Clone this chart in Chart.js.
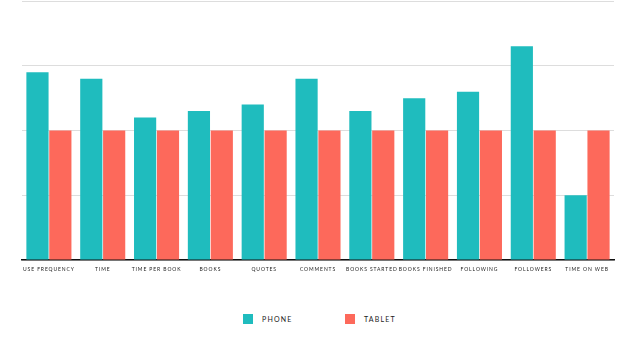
<!DOCTYPE html>
<html>
<head>
<meta charset="utf-8">
<script src="https://cdn.jsdelivr.net/npm/chart.js@4/dist/chart.umd.min.js"></script>
<style>
  body{margin:0;background:#fff;}
  #wrap{position:relative;width:638px;height:359px;}
  #chart{position:absolute;left:0;top:0;}
  #legend{position:absolute;left:0;top:314px;width:638px;font-family:Lato,sans-serif;font-size:7px;letter-spacing:1.2px;color:#222;}
  .item{position:absolute;top:0;display:flex;align-items:center;}
  .box{width:10px;height:10px;margin-right:9px;}
</style>
</head>
<body>
<div id="wrap">
  <canvas id="chart" width="638" height="278"></canvas>
  <div id="legend"></div>
</div>
<script>
// categories along the bottom
const categories = ["USE FREQUENCY","TIME","TIME PER BOOK","BOOKS","QUOTES","COMMENTS",
    "BOOKS STARTED","BOOKS FINISHED","FOLLOWING","FOLLOWERS","TIME ON WEB"];
// gridlines are 1 unit apart
const phone = [2.9, 2.8, 2.2, 2.3, 2.4, 2.8, 2.3, 2.5, 2.6, 3.3, 1.0];
const tablet = [2, 2, 2, 2, 2, 2, 2, 2, 2, 2, 2];

const teal = "#1fbcbe";
const coral = "#fd695b";

//canvas letter spacing is not taken from css, set it by hand
const spacing = {
    id: "spacing",
    beforeUpdate(chart){ chart.ctx.letterSpacing = "0.9px"; },
    beforeDraw(chart){ chart.ctx.letterSpacing = "0.9px"; }
};

const ctx = document.getElementById("chart");
const chart = new Chart(ctx, {
    type: "bar",
    data: {
        labels: categories,
        datasets: [
            {label: "PHONE", data: phone, backgroundColor: teal},
            {label: "TABLET", data: tablet, backgroundColor: coral}
        ]
    },
    options: {
        responsive: false,
        animation: false,
        layout: {padding: {left: 22, right: 24, top: 1, bottom: 0}},
        datasets: {bar: {categoryPercentage: 0.85, barPercentage: 0.97}},
        plugins: {legend: {display: false}, tooltip: {enabled: false}},
        scales: {
            x: {
                grid: {display: false, drawTicks: false},
                border: {display: true, color: "#111", width: 1.5},
                ticks: {
                    color: "#222",
                    font: {family: "Lato", size: 5},
                    padding: 6,
                    maxRotation: 0,
                    autoSkip: false
                }
            },
            y: {
                min: 0,
                max: 4,
                ticks: {display: false, stepSize: 1},
                grid: {color: "#dddddd", drawTicks: false},
                border: {display: false}
            }
        }
    },
    plugins: [spacing]
});

// legend built from the datasets
const legend = document.getElementById("legend");
const legendX = [243, 345];
chart.data.datasets.forEach((ds, i) => {
    const item = document.createElement("div");
    item.className = "item";
    item.style.left = legendX[i] + "px";
    item.innerHTML = '<span class="box" style="background:' + ds.backgroundColor + '"></span>' + ds.label;
    legend.appendChild(item);
});
</script>
</body>
</html>
